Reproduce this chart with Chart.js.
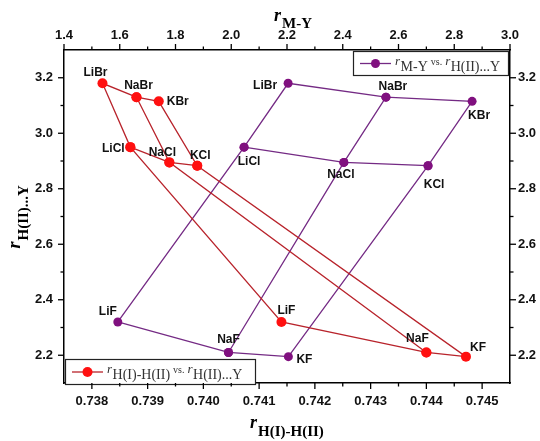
<!doctype html>
<html>
<head>
	<title>rH(II)...Y correlations</title>
	<script src="https://cdn.jsdelivr.net/npm/chart.js@4.4.1/dist/chart.umd.min.js"></script>
	<style>
		body { margin: 0; background: #fff; }
	</style>
</head>
<body>
	<canvas id="canvas" width="540" height="441"></canvas>
	<script>
		// salts, in the order the values below are listed
		const salts = ['LiF', 'NaF', 'KF', 'LiCl', 'NaCl', 'KCl', 'LiBr', 'NaBr', 'KBr'];
		// r H(II)...Y  (shared y values)
		const rHY = [2.32, 2.21, 2.195, 2.95, 2.895, 2.883, 3.18, 3.13, 3.115];
		// r H(I)-H(II)  (bottom axis, red series)
		const rHH = [0.74140, 0.74400, 0.74471, 0.73869, 0.73939, 0.73989, 0.73819, 0.73880, 0.73920];
		// r M-Y  (top axis, purple series)
		const rMY = [1.593, 1.990, 2.205, 2.046, 2.404, 2.706, 2.204, 2.555, 2.864];

		// grid drawn through the salts (null = pen up)
		const gridPath = [7, 6, 3, 0, 1, 2, 5, 8, 7, 4, 1, null, 3, 4, 5];

		const xTicks = [0.738, 0.739, 0.740, 0.741, 0.742, 0.743, 0.744, 0.745];
		const x2Ticks = [1.4, 1.6, 1.8, 2.0, 2.2, 2.4, 2.6, 2.8, 3.0];
		const yTicks = [2.2, 2.4, 2.6, 2.8, 3.0, 3.2];

		const X_MIN = 0.7375, X_MAX = 0.7455;
		const X2_MIN = 1.4, X2_MAX = 3.0;
		const Y_MIN = 2.1, Y_MAX = 3.3;

		// label offsets (px) from each point
		const redLabelPos = [[5, -11], [-9, -14], [12, -9], [-17, 2], [-7, -10], [3, -10], [-7, -11], [2, -11], [19, 0]];
		const purpleLabelPos = [[-10, -10], [0, -13], [16, 3], [5, 15], [-3, 12], [6, 19], [-23, 2], [7, -10], [7, 14]];

		const RED = '#ff1010', RED_LINE = '#b8232b';
		const PURPLE = '#80107f', PURPLE_LINE = '#742a84';
		const SANS = '"Liberation Sans", Arial, sans-serif';
		const SERIF = '"Liberation Serif", "Times New Roman", serif';

		const pathData = (xs) => gridPath.map(i => i === null ? {x: null, y: null} : {x: xs[i], y: rHY[i]});

		function minorsOf(majors, min, max) {
			const step = majors[1] - majors[0];
			const out = [];
			for (let i = -1; i < majors.length; i++) {
				const v = majors[0] + (i + 0.5) * step;
				if (v > min + step * 0.01 && v < max - step * 0.01) out.push(v);
			}
			return out;
		}

		// r + subscript style text
		function drawRich(ctx, x, y, parts) {
			for (const p of parts) {
				ctx.font = p.font;
				ctx.fillText(p.text, x, y + (p.dy || 0));
				x += ctx.measureText(p.text).width + (p.gap || 0);
			}
			return x;
		}

		const tickPlugin = {
			id: 'tickMarks',
			afterDraw(chart) {
				const ctx = chart.ctx;
				const sets = [
					['x', xTicks, X_MIN, X_MAX],
					['x2', x2Ticks, X2_MIN, X2_MAX],
					['y', yTicks, Y_MIN, Y_MAX],
					['y2', yTicks, Y_MIN, Y_MAX]
				];
				ctx.save();
				ctx.strokeStyle = '#000';
				ctx.lineWidth = 1.3;
				sets.forEach(([id, majors, min, max]) => {
					const s = chart.scales[id];
					const draw = (v, len) => {
						const p = s.getPixelForValue(v);
						ctx.beginPath();
						if (s.isHorizontal()) {
							const top = s.position === 'top';
							const y0 = top ? s.bottom : s.top;
							ctx.moveTo(p, y0);
							ctx.lineTo(p, y0 + (top ? -len : len));
						} else {
							const left = s.position === 'left';
							const x0 = left ? s.right : s.left;
							ctx.moveTo(x0, p);
							ctx.lineTo(x0 + (left ? -len : len), p);
						}
						ctx.stroke();
					};
					majors.forEach(v => draw(v, 6));
					minorsOf(majors, min, max).forEach(v => draw(v, 3.5));
				});
				ctx.restore();
			}
		};

		const titlePlugin = {
			id: 'axisTitles',
			afterDraw(chart) {
				const ctx = chart.ctx;
				const a = chart.chartArea;
				ctx.save();
				ctx.fillStyle = '#000';
				ctx.textBaseline = 'alphabetic';
				ctx.textAlign = 'left';
				// top
				drawRich(ctx, 274, 21, [
					{text: 'r', font: 'italic bold 18px ' + SERIF, gap: 1},
					{text: 'M-Y', font: 'bold 15px ' + SERIF, dy: 7}
				]);
				// bottom
				drawRich(ctx, 250, 428, [
					{text: 'r', font: 'italic bold 18px ' + SERIF, gap: 1},
					{text: 'H(I)-H(II)', font: 'bold 15px ' + SERIF, dy: 8}
				]);
				// left
				ctx.translate(20, (a.top + a.bottom) / 2 + 32);
				ctx.rotate(-Math.PI / 2);
				drawRich(ctx, 0, 0, [
					{text: 'r', font: 'italic bold 18px ' + SERIF, gap: 1},
					{text: 'H(II)...Y', font: 'bold 15px ' + SERIF, dy: 8}
				]);
				ctx.restore();
			}
		};

		const legendPlugin = {
			id: 'richLegend',
			beforeDatasetsDraw(chart) {
				const ctx = chart.ctx;
				const boxes = [
					{x: 353, y: 51, w: 156, h: 25, color: PURPLE, line: PURPLE_LINE, r: 4.5, sub1: 'M-Y'},
					{x: 65, y: 359, w: 191, h: 26, color: RED, line: RED_LINE, r: 5, sub1: 'H(I)-H(II)'}
				];
				ctx.save();
				boxes.forEach(b => {
					ctx.fillStyle = '#fff';
					ctx.fillRect(b.x, b.y, b.w, b.h);
					ctx.strokeStyle = '#222';
					ctx.lineWidth = 1.2;
					ctx.strokeRect(b.x + 0.5, b.y + 0.5, b.w - 1, b.h - 1);
					const cy = b.y + b.h / 2;
					ctx.strokeStyle = b.line;
					ctx.lineWidth = 1.3;
					ctx.beginPath();
					ctx.moveTo(b.x + 7, cy);
					ctx.lineTo(b.x + 38, cy);
					ctx.stroke();
					ctx.fillStyle = b.color;
					ctx.beginPath();
					ctx.arc(b.x + 22.5, cy, b.r, 0, Math.PI * 2);
					ctx.fill();
					ctx.fillStyle = '#333';
					ctx.textAlign = 'left';
					ctx.textBaseline = 'alphabetic';
					drawRich(ctx, b.x + 42, cy + 1, [
						{text: 'r', font: 'italic 13px ' + SERIF, gap: 0.5},
						{text: b.sub1, font: '14px ' + SERIF, dy: 6, gap: 3},
						{text: 'vs.', font: '10px ' + SERIF, gap: 3},
						{text: 'r', font: 'italic 13px ' + SERIF, gap: 0.5},
						{text: 'H(II)...Y', font: '14px ' + SERIF, dy: 6}
					]);
				});
				ctx.restore();
			}
		};

		const labelPlugin = {
			id: 'saltLabels',
			afterDatasetsDraw(chart) {
				const ctx = chart.ctx;
				const groups = [
					{xs: rHH, scale: 'x', pos: redLabelPos},
					{xs: rMY, scale: 'x2', pos: purpleLabelPos}
				];
				ctx.save();
				ctx.fillStyle = '#111';
				ctx.font = 'bold 12px ' + SANS;
				ctx.textAlign = 'center';
				ctx.textBaseline = 'middle';
				groups.forEach(g => {
					const sx = chart.scales[g.scale], sy = chart.scales.y;
					salts.forEach((name, i) => {
						const px = sx.getPixelForValue(g.xs[i]);
						const py = sy.getPixelForValue(rHY[i]);
						ctx.fillText(name, px + g.pos[i][0], py + g.pos[i][1]);
					});
				});
				ctx.restore();
			}
		};

		const tickFont = {family: SANS, size: 13, weight: 'bold'};
		const axisBase = (min, max, ticks, digits, pad) => ({
			type: 'linear',
			min: min,
			max: max,
			afterBuildTicks: (s) => { s.ticks = ticks.map(v => ({value: v})); },
			ticks: {
				color: '#111',
				font: tickFont,
				padding: pad,
				autoSkip: false,
				maxRotation: 0,
				callback: (v) => Number(v).toFixed(digits)
			},
			grid: {display: true, drawOnChartArea: false, drawTicks: false},
			border: {display: true, color: '#000', width: 1.5}
		});

		const config = {
			type: 'scatter',
			data: {
				datasets: [{
					label: 'rH(I)-H(II) vs. rH(II)...Y',
					data: pathData(rHH),
					xAxisID: 'x',
					yAxisID: 'y',
					showLine: true,
					spanGaps: false,
					borderColor: RED_LINE,
					borderWidth: 1.3,
					backgroundColor: RED,
					pointBackgroundColor: RED,
					pointBorderColor: RED,
					pointRadius: 5,
					pointBorderWidth: 0
				}, {
					label: 'rM-Y vs. rH(II)...Y',
					data: pathData(rMY),
					xAxisID: 'x2',
					yAxisID: 'y',
					showLine: true,
					spanGaps: false,
					borderColor: PURPLE_LINE,
					borderWidth: 1.3,
					backgroundColor: PURPLE,
					pointBackgroundColor: PURPLE,
					pointBorderColor: PURPLE,
					pointRadius: 4.5,
					pointBorderWidth: 0
				}]
			},
			options: {
				responsive: false,
				animation: false,
				layout: {padding: 0},
				plugins: {
					legend: {display: false},
					tooltip: {enabled: false}
				},
				scales: {
					x: Object.assign(axisBase(X_MIN, X_MAX, xTicks, 3, 11), {
						position: 'bottom',
						afterFit: (s) => { s.height = 58; }
					}),
					x2: Object.assign(axisBase(X2_MIN, X2_MAX, x2Ticks, 1, 7), {
						position: 'top',
						afterFit: (s) => { s.height = 50; }
					}),
					y: Object.assign(axisBase(Y_MIN, Y_MAX, yTicks, 1, 11), {
						position: 'left',
						afterFit: (s) => { s.width = 64; }
					}),
					y2: Object.assign(axisBase(Y_MIN, Y_MAX, yTicks, 1, 8), {
						position: 'right',
						afterFit: (s) => { s.width = 30; }
					})
				}
			},
			plugins: [legendPlugin, labelPlugin, tickPlugin, titlePlugin]
		};

		window.onload = function() {
			window.myChart = new Chart(document.getElementById('canvas'), config);
		};
	</script>
</body>
</html>
